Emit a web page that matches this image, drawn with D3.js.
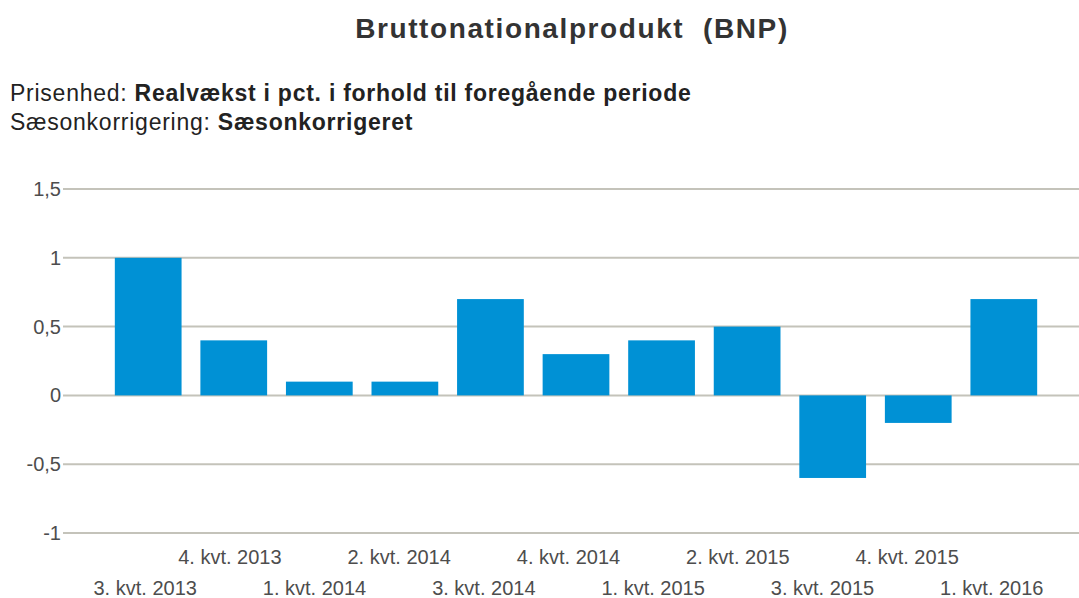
<!DOCTYPE html>
<html>
<head>
<meta charset="utf-8">
<script src="https://cdn.jsdelivr.net/npm/d3@7"></script>
<style>
  body { margin: 0; background: #fff; }
  svg text { font-family: 'Liberation Sans', Arial, sans-serif; }
</style>
</head>
<body>
<div id="chart"></div>
<script>
const quarters = ['3. kvt. 2013', '4. kvt. 2013', '1. kvt. 2014', '2. kvt. 2014', '3. kvt. 2014',
  '4. kvt. 2014', '1. kvt. 2015', '2. kvt. 2015', '3. kvt. 2015', '4. kvt. 2015', '1. kvt. 2016']
const growth = [1.0, 0.4, 0.1, 0.1, 0.7, 0.3, 0.4, 0.5, -0.6, -0.2, 0.7]
const yTicks = [-1, -0.5, 0, 0.5, 1, 1.5]

const dimensions = { width: 1079, height: 598 }

const svg = d3.select('#chart').append('svg')
  .attr('width', dimensions.width)
  .attr('height', dimensions.height)

svg.append('text')
  .text('Bruttonationalprodukt  (BNP)')
  .attr('x', 572)
  .attr('y', 38)
  .attr('text-anchor', 'middle')
  .attr('font-size', '28px')
  .attr('font-weight', 'bold')
  .attr('letter-spacing', '1.6px')
  .attr('fill', '#333')
  .style('white-space', 'pre')

const sub = [['Prisenhed: ', 'Realvækst i pct. i forhold til foregående periode'],
  ['Sæsonkorrigering: ', 'Sæsonkorrigeret']]
sub.forEach((s, i) => {
  const t = svg.append('text')
    .attr('x', 10)
    .attr('y', 101 + i * 29)
    .attr('font-size', '23px')
    .attr('letter-spacing', '0.75px')
    .attr('fill', '#222')
  t.append('tspan').text(s[0])
  t.append('tspan').text(s[1]).attr('font-weight', 'bold')
})

const y = d3.scaleLinear().domain([-1, 1.5]).range([533, 189])
const x = d3.scaleBand().domain(quarters).range([96, 1056]).paddingInner(0.22).paddingOuter(0.22)

// gridlines
svg.append('g')
  .selectAll('line')
  .data(yTicks)
  .join('line')
  .attr('x1', 63)
  .attr('x2', dimensions.width)
  .attr('y1', d => y(d))
  .attr('y2', d => y(d))
  .attr('stroke', '#c4c3ba')
  .attr('stroke-width', 2)

svg.append('g')
  .selectAll('text')
  .data(yTicks)
  .join('text')
  .attr('x', 61)
  .attr('y', d => y(d) + 7)
  .attr('text-anchor', 'end')
  .attr('font-size', '20px')
  .attr('fill', '#4d4d4d')
  .text(d => d3.format('.1~f')(d).replace('.', ',').replace('−', '-'))

// bars
svg.append('g')
  .selectAll('rect')
  .data(growth)
  .join('rect')
  .attr('x', (d, i) => x(quarters[i]))
  .attr('width', x.bandwidth())
  .attr('y', d => y(Math.max(0, d)))
  .attr('height', d => Math.abs(y(d) - y(0)))
  .attr('fill', '#0091d5')

// x labels, staggered on two rows
svg.append('g')
  .selectAll('text')
  .data(quarters)
  .join('text')
  .attr('x', (d, i) => x(d) + x.bandwidth() / 2 - 3 - i * 0.9)
  .attr('y', (d, i) => i % 2 ? 564 : 595)
  .attr('text-anchor', 'middle')
  .attr('font-size', '20px')
  .attr('fill', '#4d4d4d')
  .text(d => d)
</script>
</body>
</html>
